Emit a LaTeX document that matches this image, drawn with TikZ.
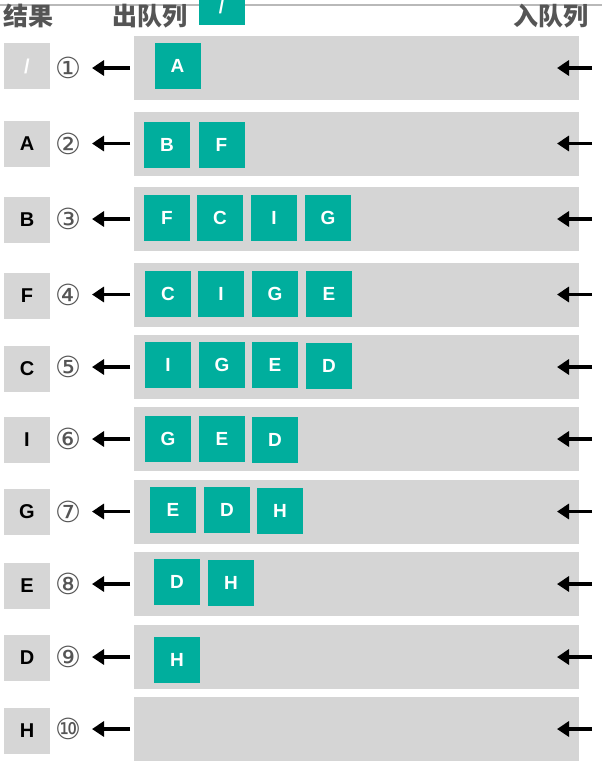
\documentclass[tikz,border=0pt]{standalone}
\usepackage{fontspec}
\setmainfont{Liberation Sans}
\newfontfamily\cjkfont{Noto Sans CJK SC}
\newfontfamily\symfont{DejaVu Sans}
\usetikzlibrary{arrows.meta}
\definecolor{tealC}{HTML}{00AE9D}
\definecolor{barGray}{HTML}{D5D5D5}
\definecolor{resGray}{HTML}{D6D6D6}
\definecolor{txtGray}{HTML}{555555}
\tikzset{
  x=1pt,y=-1pt,
  bar/.style={fill=barGray,draw=none,minimum width=445pt,minimum height=64pt,inner sep=0pt,anchor=west},
  qbox/.style={fill=tealC,draw=none,minimum width=46pt,minimum height=46pt,inner sep=0pt,text=white,font=\fontsize{19}{19}\selectfont\bfseries},
  res/.style={fill=resGray,draw=none,minimum width=46pt,minimum height=46pt,inner sep=0pt,text=black,font=\fontsize{20}{20}\selectfont\bfseries},
  num/.style={inner sep=0pt,text=txtGray,font=\symfont\fontsize{29}{29}\selectfont},
  head/.style={inner sep=0pt,text=txtGray,font=\cjkfont\fontsize{25}{25}\selectfont\bfseries},
  arr/.style={line width=3.6pt,-{Triangle[length=12pt,width=15pt]}},
}
\begin{document}
\begin{tikzpicture}
\useasboundingbox (0,0) rectangle (602,761);
\clip (0,0) rectangle (602,761);
\fill[white] (0,0) rectangle (602,761);
\draw[gray!55,line width=1.5pt] (0,5) -- (602,5);
% header
\node[head] (hres) at (28,16) {结果};
\node[head] (hout) at (150,16) {出队列};
\node[head] (hin) at (551,16) {入队列};
\node[qbox,minimum height=50pt] (hq) at (221.5,0) {};
\node[text=white,font=\fontsize{19}{19}\selectfont\bfseries,inner sep=0pt] (hslash) at (221.5,7) {/};
% rows: index / ycenter / circled number
\foreach \i/\y/\c in {1/68/①,2/143.5/②,3/219/③,4/294.5/④,5/367/⑤,6/439/⑥,7/511.5/⑦,8/584/⑧,9/657/⑨,10/729/⑩}{
  \node[bar] (bar\i) at (134,\y) {};
  \node[num] (num\i) at (68,\y) {\c};
  \coordinate (in\i) at (592,\y);
  \coordinate (tip\i) at (557,\y);
  \draw[arr,shorten <=4pt,shorten >=24pt] (bar\i.west) -- (num\i.center);
  \draw[arr] (in\i) -- (tip\i);
}
\node[res,text=white] (r1) at (27,66) {/};
\node[res] (r2) at (27,143.5) {A};
\node[res] (r3) at (27,220) {B};
\node[res] (r4) at (27,296) {F};
\node[res] (r5) at (27,369) {C};
\node[res] (r6) at (27,440) {I};
\node[res] (r7) at (27,512) {G};
\node[res] (r8) at (27,586) {E};
\node[res] (r9) at (27,658) {D};
\node[res] (r10) at (27,730.5) {H};
% queue contents
\node[qbox] (q1a) at (177.5,66) {A};
\node[qbox] (q2a) at (167,144.5) {B};
\node[qbox] (q2b) at (221.5,144.5) {F};
\node[qbox] (q3a) at (167,218) {F};
\node[qbox] (q3b) at (220,218) {C};
\node[qbox] (q3c) at (274,218) {I};
\node[qbox] (q3d) at (328,218) {G};
\node[qbox] (q4a) at (168,293.5) {C};
\node[qbox] (q4b) at (221,293.5) {I};
\node[qbox] (q4c) at (275,293.5) {G};
\node[qbox] (q4d) at (329,293.5) {E};
\node[qbox] (q5a) at (168,365) {I};
\node[qbox] (q5b) at (222,365) {G};
\node[qbox] (q5c) at (275,365) {E};
\node[qbox] (q5d) at (329,366) {D};
\node[qbox] (q6a) at (168,438.5) {G};
\node[qbox] (q6b) at (222,438.5) {E};
\node[qbox] (q6c) at (275,439.5) {D};
\node[qbox] (q7a) at (173,510) {E};
\node[qbox] (q7b) at (227,510) {D};
\node[qbox] (q7c) at (280,510.5) {H};
\node[qbox] (q8a) at (177,582) {D};
\node[qbox] (q8b) at (231,582.5) {H};
\node[qbox] (q9a) at (177,659.5) {H};
\end{tikzpicture}
\end{document}
